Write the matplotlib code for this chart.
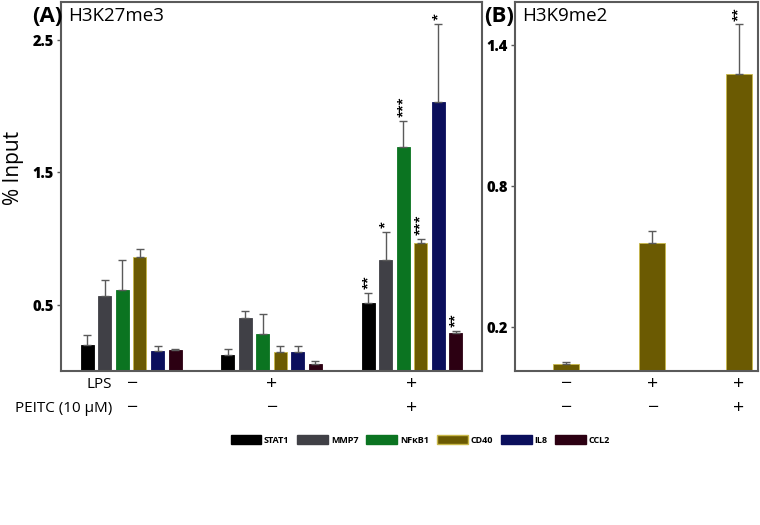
import numpy as np
import matplotlib.pyplot as plt
from matplotlib.patches import Patch

# donnees panneau A (H3K27me3)
genes = ['STAT1', 'MMP7', 'NFκB1', 'CD40', 'IL8', 'CCL2']
colors = ['#000000', '#404046', '#0b7421', '#6b5a02', '#0b0f5c', '#2c0012']
edges = ['#000000', '#404046', '#0b7421', '#c9b84a', '#0b0f5c', '#2c0012']
vals_a = [
    [0.20, 0.57, 0.61, 0.86, 0.15, 0.16],   # - / -
    [0.12, 0.40, 0.28, 0.14, 0.14, 0.05],   # + / -
    [0.51, 0.84, 1.69, 0.97, 2.03, 0.29],   # + / +
]
err_a = [
    [0.075, 0.12, 0.23, 0.06, 0.04, 0.006],
    [0.05, 0.056, 0.15, 0.05, 0.05, 0.026],
    [0.08, 0.21, 0.20, 0.025, 0.59, 0.013],
]
stars_a = [
    ['', '', '', '', '', ''],
    ['', '', '', '', '', ''],
    ['**', '*', '***', '***', '*', '**'],
]

# donnees panneau B (H3K9me2, CD40)
vals_b = [0.043, 0.557, 1.28]
err_b = [0.007, 0.052, 0.21]
stars_b = ['', '', '**']

lps = ['−', '+', '+']
peitc = ['−', '−', '+']

plt.rcParams['font.family'] = ['Open Sans', 'DejaVu Sans']

fig = plt.figure(figsize=(7.6, 5.25), dpi=100)
axA = fig.add_axes([0.0803, 0.2933, 0.554, 0.703])
axB = fig.add_axes([0.6776, 0.2933, 0.3197, 0.703])

spine_col = '#5a5a5a'
err_col = '#5a5a5a'

# panneau A
w = 0.093
for g in range(3):
    for i in range(6):
        x = g + (i - 2.5) * 0.125
        axA.bar(x, vals_a[g][i], width=w, color=colors[i], edgecolor=edges[i], linewidth=0.6)
        axA.errorbar(x, vals_a[g][i], yerr=[[0], [err_a[g][i]]], fmt='none',
                     ecolor=err_col, elinewidth=1, capsize=3, capthick=1)
        if stars_a[g][i]:
            axA.text(x, vals_a[g][i] + err_a[g][i] + 0.03, stars_a[g][i], rotation=90,
                     ha='center', va='bottom', fontsize=9, fontweight='bold')

axA.set_xlim(-0.5, 2.5)
axA.set_ylim(0, 2.787)
axA.set_yticks([0.5, 1.5, 2.5])
axA.set_yticklabels(['0.5', '1.5', '2.5'], fontweight='heavy', fontsize=10.5)
axA.set_xticks([])
fig.text(13 / 760, 1 - 168 / 525, '% Input', rotation=90, ha='center', va='center', fontsize=15)

tr = axA.get_xaxis_transform()
for g in range(3):
    axA.text(g, -0.036, lps[g], transform=tr, ha='center', va='center', fontsize=14)
    axA.text(g, -0.101, peitc[g], transform=tr, ha='center', va='center', fontsize=14)
axA.text(-0.5 + 51 / 140, -0.036, 'LPS', transform=tr, ha='right', va='center', fontsize=11)
axA.text(-0.5 + 51 / 140, -0.101, 'PEITC (10 μM)', transform=tr, ha='right', va='center', fontsize=11)

# panneau B
for j in range(3):
    axB.bar(j, vals_b[j], width=0.30, color=colors[3], edgecolor=edges[3], linewidth=0.6)
    axB.errorbar(j, vals_b[j], yerr=[[0], [err_b[j]]], fmt='none',
                 ecolor=err_col, elinewidth=1, capsize=3, capthick=1)
    if stars_b[j]:
        axB.text(j, vals_b[j] + err_b[j] + 0.015, stars_b[j], rotation=90,
                 ha='center', va='bottom', fontsize=9, fontweight='bold')
axB.set_xlim(-0.59, 2.22)
axB.set_ylim(0.013, 1.585)
axB.set_yticks([0.2, 0.8, 1.4])
axB.set_yticklabels(['0.2', '0.8', '1.4'], fontweight='heavy', fontsize=10.5)
axB.set_xticks([])
trB = axB.get_xaxis_transform()
for j in range(3):
    axB.text(j, -0.036, lps[j], transform=trB, ha='center', va='center', fontsize=14)
    axB.text(j, -0.101, peitc[j], transform=trB, ha='center', va='center', fontsize=14)

for ax in (axA, axB):
    for s in ax.spines.values():
        s.set_color(spine_col)
        s.set_linewidth(1.5)
    ax.tick_params(axis='y', length=3, width=1, color=spine_col, pad=2)

# titres des panneaux
fig.text(32 / 760, 1 - 16 / 525, '(A)', fontsize=16, fontweight='bold', va='center')
fig.text(68 / 760, 1 - 16 / 525, 'H3K27me3', fontsize=13.5, va='center')
fig.text(484 / 760, 1 - 16 / 525, '(B)', fontsize=16, fontweight='bold', va='center')
fig.text(522 / 760, 1 - 16 / 525, 'H3K9me2', fontsize=13.5, va='center')

# legende
handles = [Patch(facecolor=colors[i], edgecolor=edges[i], label=genes[i]) for i in range(6)]
leg = fig.legend(handles=handles, loc='center', bbox_to_anchor=(0.553, 1 - 440 / 525), ncol=6,
                 frameon=False, handlelength=3.4, handleheight=1.2,
                 handletextpad=0.3, columnspacing=0.9, prop={'weight': 'bold', 'size': 6.5})

fig.savefig('out.png', dpi=100)
